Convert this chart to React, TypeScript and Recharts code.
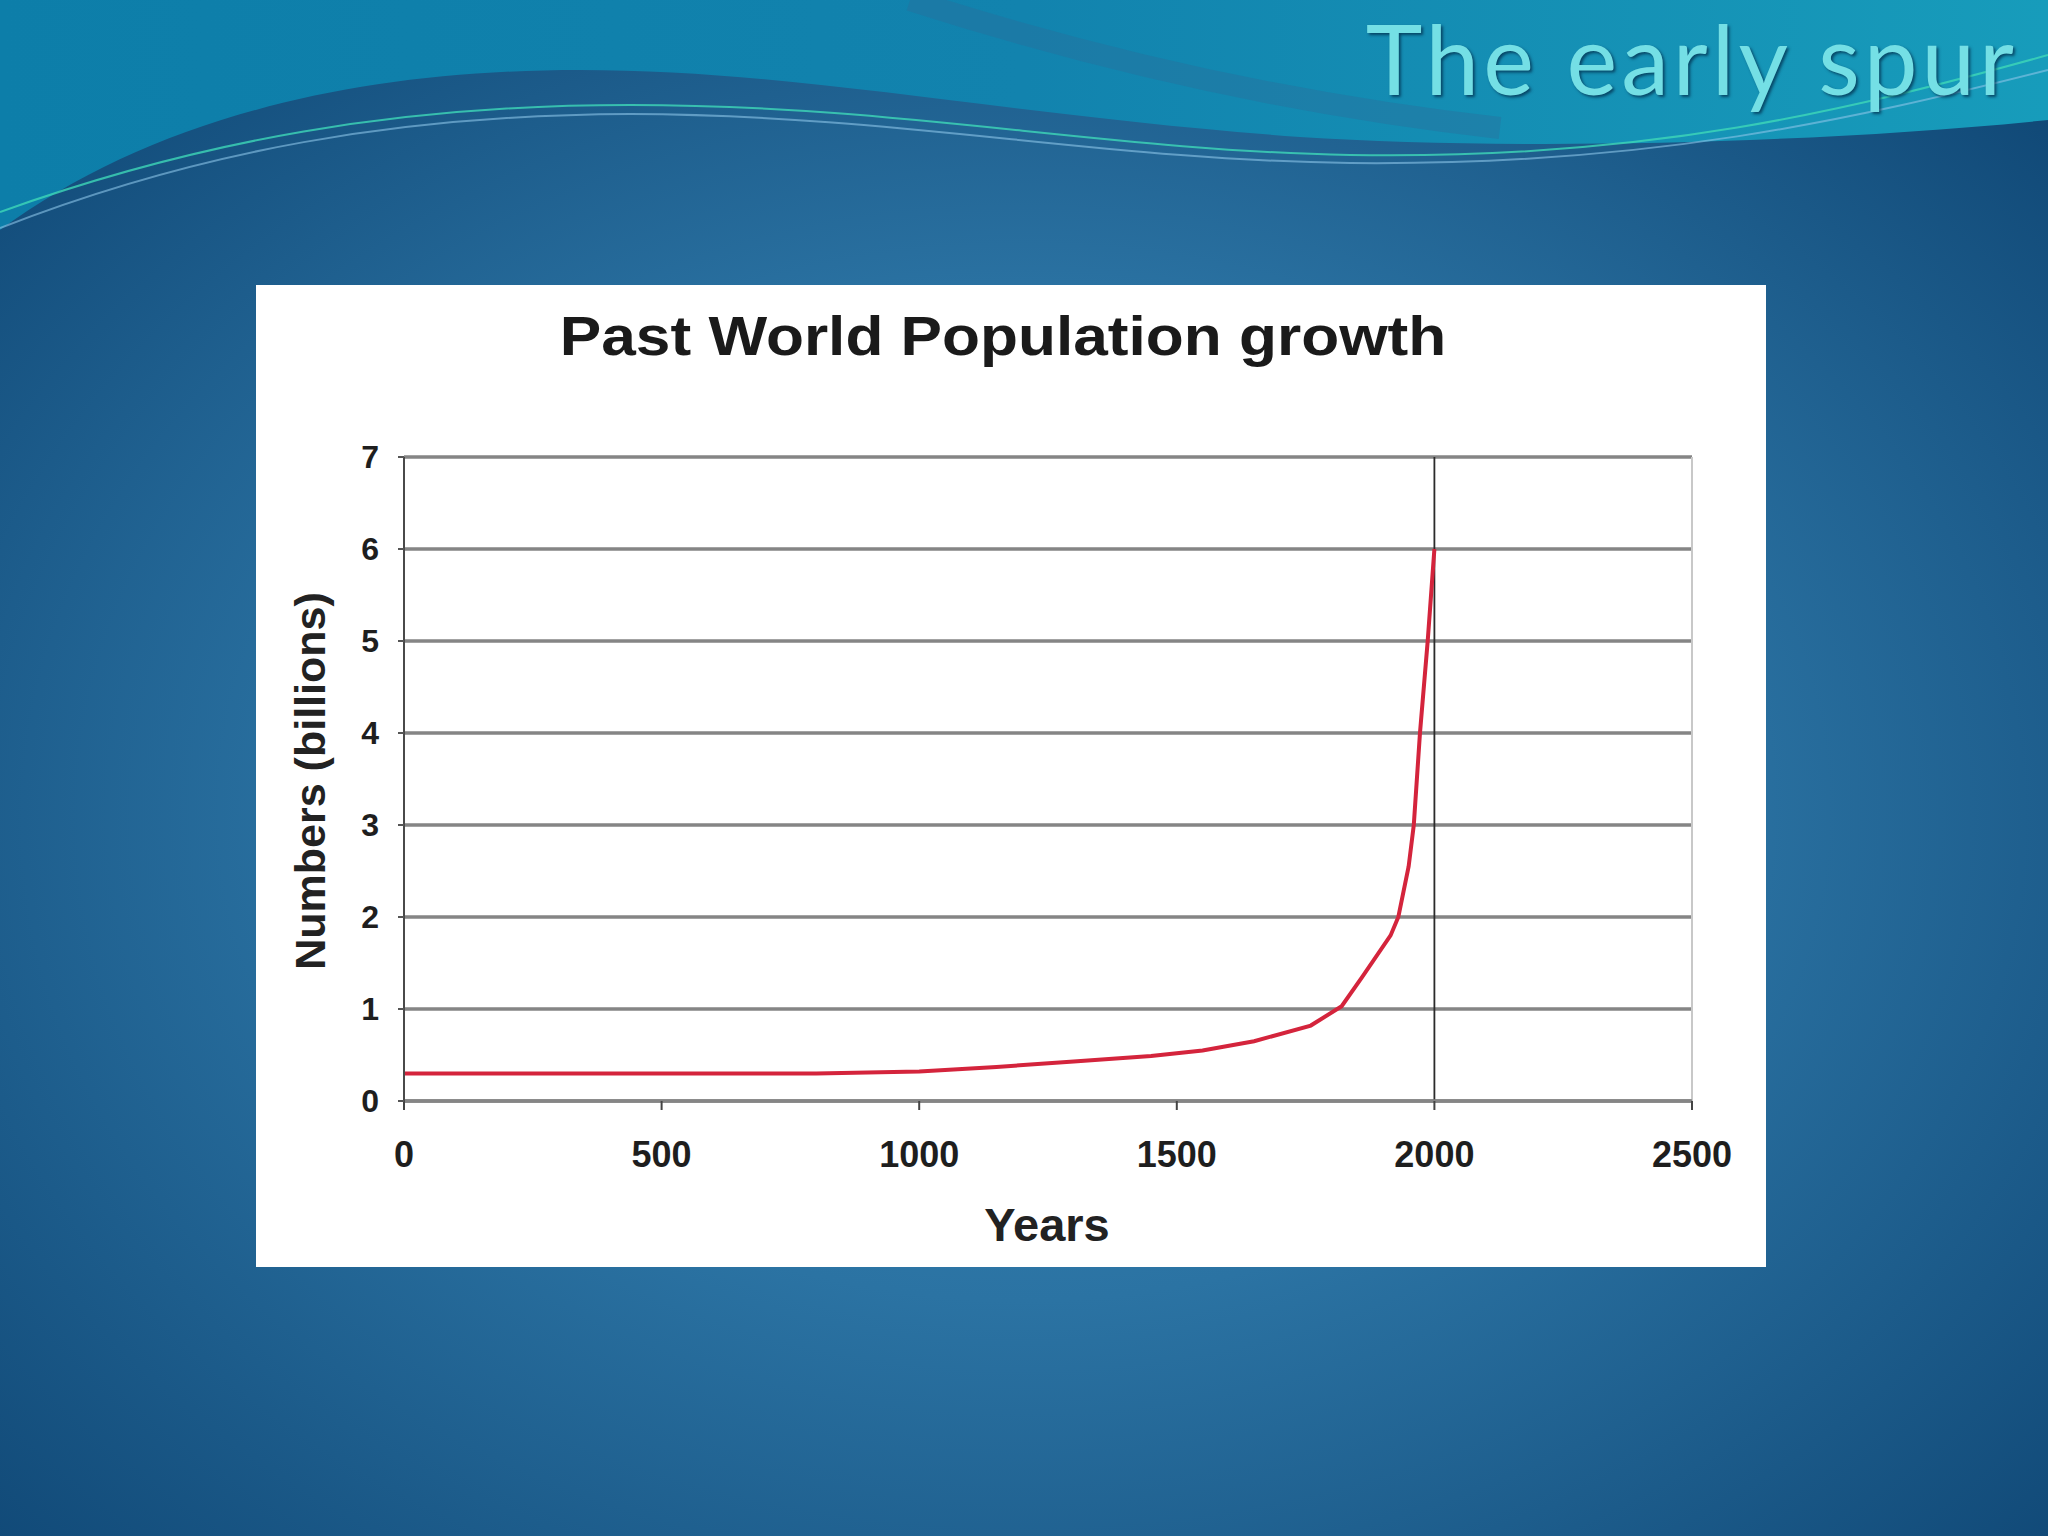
import {
  LineChart,
  Line,
  XAxis,
  YAxis,
  CartesianGrid,
  ReferenceLine,
} from 'recharts';

const years = [0, 500, 800, 1000, 1150, 1300, 1450, 1550, 1650, 1760, 1820, 1860, 1915, 1930, 1950, 1960, 1972, 1987, 2000];
const population = [0.3, 0.3, 0.3, 0.32, 0.37, 0.43, 0.49, 0.55, 0.65, 0.82, 1.03, 1.35, 1.8, 2.0, 2.55, 3.0, 4.0, 5.0, 6.0];

const xTicks = [0, 500, 1000, 1500, 2000, 2500];
const yTicks = [0, 1, 2, 3, 4, 5, 6, 7];

const data = years.map((year, i) => ({ year, value: population[i] }));

const font = '"Liberation Sans", Arial, sans-serif';

function Background() {
  return (
    <svg width={2048} height={1536} style={{ position: 'absolute', left: 0, top: 0 }}>
      <defs>
        <radialGradient id="bg" cx="50%" cy="55%" r="72%" fx="50%" fy="50%">
          <stop offset="0%" stopColor="#3a89bb" />
          <stop offset="45%" stopColor="#2b73a3" />
          <stop offset="100%" stopColor="#0e4573" />
        </radialGradient>
        <linearGradient id="teal" x1="0" y1="0" x2="1" y2="0">
          <stop offset="0%" stopColor="#0d7ea9" />
          <stop offset="50%" stopColor="#1283ae" />
          <stop offset="100%" stopColor="#179cbb" />
        </linearGradient>
      </defs>
      <rect width={2048} height={1536} fill="url(#bg)" />
      <path
        d="M0 0 H2048 V120 C1800 145 1500 150 1300 137 C1000 115 800 70 580 70 C350 70 150 120 0 230 Z"
        fill="url(#teal)"
      />
      <path d="M910 0 C1050 45 1250 100 1500 128" fill="none" stroke="#2a6f9c" strokeWidth={22} opacity={0.4} />
      <path d="M0 212 C200 140 400 105 630 105 C900 105 1100 150 1350 155 C1650 160 1850 110 2048 55" fill="none" stroke="#3fd8b8" strokeWidth={2} opacity={0.8} />
      <path d="M0 228 C200 150 400 115 630 114 C900 115 1100 160 1350 163 C1650 166 1850 120 2048 70" fill="none" stroke="#8cc4e8" strokeWidth={2} opacity={0.6} />
    </svg>
  );
}

export default function App() {
  return (
    <div style={{ position: 'absolute', left: 0, top: 0, width: 2048, height: 1536, overflow: 'hidden' }}>
      <Background />
      <div
        style={{
          position: 'absolute',
          right: 30,
          top: 0,
          lineHeight: 'normal',
          fontFamily: 'Lato, "Open Sans", sans-serif',
          fontSize: 96,
          letterSpacing: 4,
          color: '#74dfe5',
          textShadow: '2px 2px 3px rgba(0,40,70,0.7)',
          whiteSpace: 'nowrap',
        }}
      >
        The early spur
      </div>
      <div style={{ position: 'absolute', left: 256, top: 285, width: 1510, height: 982, background: '#ffffff' }}>
        <div
          style={{
            position: 'absolute',
            left: 0,
            width: 1494,
            top: 18,
            textAlign: 'center',
            fontFamily: font,
            fontWeight: 'bold',
            fontSize: 56,
            color: '#1a1a1a',
            transform: 'scaleX(1.11)',
          }}
        >
          Past World Population growth
        </div>
        <div
          style={{
            position: 'absolute',
            left: 54 - 250,
            top: 496 - 25,
            width: 500,
            height: 50,
            lineHeight: '50px',
            textAlign: 'center',
            transform: 'rotate(-90deg)',
            fontFamily: font,
            fontWeight: 'bold',
            fontSize: 43,
            color: '#222',
          }}
        >
          Numbers (billions)
        </div>
        <div
          style={{
            position: 'absolute',
            left: 791 - 150,
            width: 300,
            top: 912,
            textAlign: 'center',
            fontFamily: font,
            fontWeight: 'bold',
            fontSize: 47,
            color: '#222',
          }}
        >
          Years
        </div>
        <LineChart
          width={1510}
          height={982}
          data={data}
          margin={{ top: 172, right: 74, bottom: 136, left: 68 }}
          style={{ position: 'absolute', left: 0, top: 0 }}
        >
          <CartesianGrid vertical={false} stroke="#858585" strokeWidth={3.5} />
          <ReferenceLine x={2500} stroke="#c8c8c8" strokeWidth={2} />
          <ReferenceLine x={2000} stroke="#2b2b2b" strokeWidth={1.8} />
          <XAxis
            dataKey="year"
            type="number"
            domain={[0, 2500]}
            ticks={xTicks}
            interval={0}
            stroke="#858585"
            strokeWidth={3.5}
            tickSize={9}
            tickMargin={31}
            tickLine={{ stroke: '#444', strokeWidth: 2 }}
            tick={{ fill: '#1e1e1e', fontFamily: font, fontWeight: 'bold', fontSize: 36 }}
          />
          <YAxis
            type="number"
            domain={[0, 7]}
            ticks={yTicks}
            interval={0}
            width={80}
            stroke="#4a4a4a"
            strokeWidth={2}
            tickSize={6}
            tickMargin={19}
            tickLine={{ stroke: '#555', strokeWidth: 2 }}
            tick={{ fill: '#1e1e1e', fontFamily: font, fontWeight: 'bold', fontSize: 32 }}
          />
          <Line
            type="linear"
            dataKey="value"
            stroke="#d4243c"
            strokeWidth={4}
            dot={false}
            activeDot={false}
            isAnimationActive={false}
          />
        </LineChart>
      </div>
    </div>
  );
}
